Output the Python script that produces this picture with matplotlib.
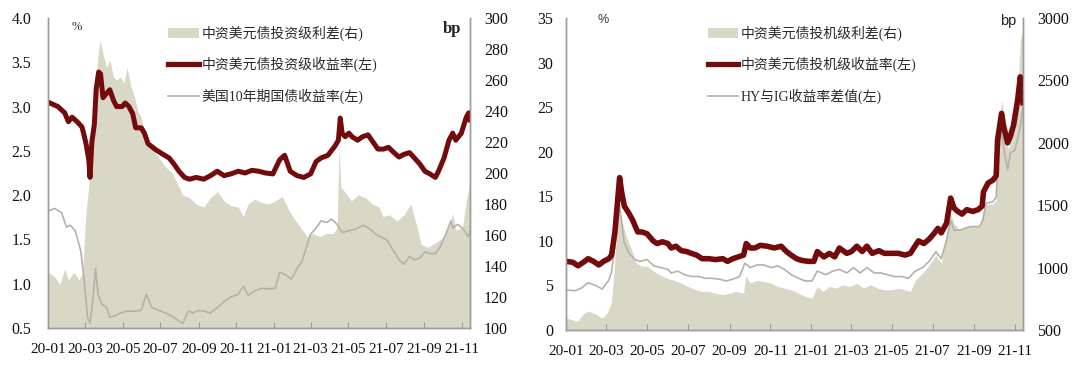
import matplotlib
matplotlib.use("Agg")
import matplotlib.pyplot as plt
import matplotlib.dates as mdates
import pandas as pd
from matplotlib.patches import Patch
from matplotlib.lines import Line2D

plt.rcParams['font.family'] = ['Liberation Serif', 'Noto Sans CJK SC']
plt.rcParams['axes.unicode_minus'] = False

# ---- left chart: investment grade ----
ig_spread = [  # bp, right axis
    ("2020-01-01", 136), ("2020-01-12", 133), ("2020-01-20", 128), ("2020-01-28", 138),
    ("2020-02-03", 131), ("2020-02-12", 136), ("2020-02-20", 131), ("2020-02-26", 136),
    ("2020-03-02", 172), ("2020-03-09", 200), ("2020-03-16", 236), ("2020-03-21", 273),
    ("2020-03-25", 286), ("2020-03-30", 277), ("2020-04-05", 268), ("2020-04-10", 273),
    ("2020-04-16", 262), ("2020-04-21", 260), ("2020-04-27", 262), ("2020-05-03", 258),
    ("2020-05-08", 268), ("2020-05-14", 256), ("2020-05-20", 249), ("2020-05-26", 239),
    ("2020-05-31", 236), ("2020-06-05", 226), ("2020-06-17", 217), ("2020-06-28", 210),
    ("2020-07-09", 204), ("2020-07-20", 200), ("2020-07-31", 191), ("2020-08-06", 186),
    ("2020-08-17", 184), ("2020-08-28", 180), ("2020-09-09", 178), ("2020-09-20", 184),
    ("2020-10-01", 188), ("2020-10-12", 182), ("2020-10-23", 179), ("2020-11-04", 178),
    ("2020-11-12", 172), ("2020-11-20", 180), ("2020-12-01", 183), ("2020-12-12", 181),
    ("2020-12-23", 180), ("2021-01-03", 182), ("2021-01-14", 185), ("2021-01-25", 176),
    ("2021-02-05", 169), ("2021-02-16", 163), ("2021-02-24", 159), ("2021-03-04", 161),
    ("2021-03-16", 159), ("2021-03-27", 161), ("2021-04-07", 161), ("2021-04-13", 165),
    ("2021-04-16", 217), ("2021-04-19", 191), ("2021-04-25", 188), ("2021-05-06", 182),
    ("2021-05-17", 186), ("2021-05-29", 184), ("2021-06-09", 180), ("2021-06-20", 178),
    ("2021-06-26", 172), ("2021-07-07", 173), ("2021-07-19", 169), ("2021-07-30", 173),
    ("2021-08-10", 180), ("2021-08-19", 167), ("2021-08-27", 154), ("2021-09-07", 152),
    ("2021-09-19", 155), ("2021-09-30", 158), ("2021-10-11", 165), ("2021-10-17", 174),
    ("2021-10-22", 163), ("2021-11-02", 165), ("2021-11-08", 182), ("2021-11-12", 190),
    ("2021-11-14", 197),
]
ig_yield = [  # %, left axis
    ("2020-01-01", 3.05), ("2020-01-17", 3.00), ("2020-01-28", 2.93), ("2020-02-03", 2.83),
    ("2020-02-09", 2.88), ("2020-02-17", 2.83), ("2020-02-25", 2.77), ("2020-03-02", 2.60),
    ("2020-03-07", 2.40), ("2020-03-09", 2.20), ("2020-03-12", 2.60), ("2020-03-16", 2.80),
    ("2020-03-19", 3.20), ("2020-03-23", 3.39), ("2020-03-26", 3.37), ("2020-03-30", 3.10),
    ("2020-04-05", 3.15), ("2020-04-10", 3.19), ("2020-04-16", 3.07), ("2020-04-21", 3.00),
    ("2020-04-30", 3.00), ("2020-05-05", 3.04), ("2020-05-11", 3.00), ("2020-05-17", 2.92),
    ("2020-05-22", 2.76), ("2020-05-31", 2.76), ("2020-06-05", 2.70), ("2020-06-11", 2.58),
    ("2020-06-22", 2.52), ("2020-07-03", 2.47), ("2020-07-15", 2.42), ("2020-07-23", 2.35),
    ("2020-07-31", 2.27), ("2020-08-09", 2.20), ("2020-08-17", 2.18), ("2020-08-28", 2.20),
    ("2020-09-09", 2.18), ("2020-09-20", 2.22), ("2020-10-01", 2.27), ("2020-10-12", 2.22),
    ("2020-10-23", 2.24), ("2020-11-04", 2.27), ("2020-11-15", 2.25), ("2020-11-26", 2.28),
    ("2020-12-07", 2.27), ("2020-12-18", 2.25), ("2020-12-30", 2.24), ("2021-01-10", 2.40),
    ("2021-01-18", 2.45), ("2021-01-27", 2.27), ("2021-02-07", 2.22), ("2021-02-18", 2.20),
    ("2021-03-01", 2.24), ("2021-03-10", 2.38), ("2021-03-18", 2.42), ("2021-03-29", 2.45),
    ("2021-04-09", 2.55), ("2021-04-15", 2.62), ("2021-04-18", 2.87), ("2021-04-21", 2.70),
    ("2021-04-26", 2.66), ("2021-05-02", 2.70), ("2021-05-07", 2.66), ("2021-05-16", 2.62),
    ("2021-05-24", 2.66), ("2021-06-02", 2.68), ("2021-06-10", 2.60), ("2021-06-18", 2.52),
    ("2021-06-27", 2.52), ("2021-07-05", 2.54), ("2021-07-14", 2.48), ("2021-07-22", 2.43),
    ("2021-07-30", 2.46), ("2021-08-08", 2.48), ("2021-08-16", 2.42), ("2021-08-25", 2.35),
    ("2021-09-02", 2.27), ("2021-09-10", 2.24), ("2021-09-19", 2.20), ("2021-09-24", 2.27),
    ("2021-10-03", 2.42), ("2021-10-11", 2.62), ("2021-10-17", 2.70), ("2021-10-22", 2.62),
    ("2021-10-31", 2.70), ("2021-11-08", 2.88), ("2021-11-12", 2.93), ("2021-11-14", 2.85),
]
ust10y = [  # %, left axis
    ("2020-01-01", 1.82), ("2020-01-12", 1.85), ("2020-01-23", 1.80), ("2020-01-31", 1.64),
    ("2020-02-06", 1.66), ("2020-02-14", 1.60), ("2020-02-23", 1.37), ("2020-02-28", 1.08),
    ("2020-03-05", 0.62), ("2020-03-09", 0.55), ("2020-03-14", 0.85), ("2020-03-18", 1.17),
    ("2020-03-22", 0.88), ("2020-03-28", 0.77), ("2020-04-05", 0.73), ("2020-04-10", 0.62),
    ("2020-04-19", 0.64), ("2020-04-27", 0.67), ("2020-05-08", 0.69), ("2020-05-20", 0.69),
    ("2020-05-31", 0.70), ("2020-06-08", 0.88), ("2020-06-17", 0.73), ("2020-06-28", 0.70),
    ("2020-07-09", 0.67), ("2020-07-20", 0.63), ("2020-07-31", 0.58), ("2020-08-06", 0.55),
    ("2020-08-15", 0.69), ("2020-08-23", 0.67), ("2020-08-31", 0.70), ("2020-09-09", 0.69),
    ("2020-09-20", 0.67), ("2020-10-01", 0.73), ("2020-10-12", 0.80), ("2020-10-23", 0.85),
    ("2020-11-04", 0.88), ("2020-11-12", 0.97), ("2020-11-20", 0.87), ("2020-12-01", 0.92),
    ("2020-12-12", 0.95), ("2020-12-23", 0.94), ("2021-01-03", 0.95), ("2021-01-10", 1.13),
    ("2021-01-20", 1.10), ("2021-01-29", 1.05), ("2021-02-07", 1.17), ("2021-02-15", 1.25),
    ("2021-02-24", 1.45), ("2021-03-01", 1.56), ("2021-03-10", 1.63), ("2021-03-18", 1.71),
    ("2021-03-27", 1.69), ("2021-04-04", 1.73), ("2021-04-13", 1.67), ("2021-04-21", 1.58),
    ("2021-05-03", 1.60), ("2021-05-14", 1.62), ("2021-05-25", 1.66), ("2021-06-05", 1.62),
    ("2021-06-14", 1.56), ("2021-06-22", 1.53), ("2021-07-03", 1.49), ("2021-07-14", 1.36),
    ("2021-07-22", 1.27), ("2021-07-30", 1.22), ("2021-08-08", 1.31), ("2021-08-16", 1.27),
    ("2021-08-25", 1.29), ("2021-09-02", 1.36), ("2021-09-10", 1.34), ("2021-09-19", 1.34),
    ("2021-09-27", 1.42), ("2021-10-06", 1.56), ("2021-10-14", 1.71), ("2021-10-17", 1.63),
    ("2021-10-25", 1.67), ("2021-11-03", 1.62), ("2021-11-11", 1.53), ("2021-11-14", 1.60),
]

# ---- right chart: high yield ----
hy_spread = [  # bp, right axis
    ("2020-01-01", 596), ("2020-01-11", 580), ("2020-01-19", 572), ("2020-01-27", 628),
    ("2020-02-03", 652), ("2020-02-14", 628), ("2020-02-24", 596), ("2020-03-03", 640),
    ("2020-03-09", 724), ("2020-03-13", 1000), ("2020-03-17", 1300), ("2020-03-21", 1490),
    ("2020-03-25", 1363), ("2020-03-31", 1250), ("2020-04-08", 1139), ("2020-04-15", 1035),
    ("2020-04-23", 1011), ("2020-05-01", 1011), ("2020-05-11", 970), ("2020-05-21", 939),
    ("2020-06-01", 912), ("2020-06-11", 897), ("2020-06-21", 875), ("2020-07-01", 849),
    ("2020-07-12", 822), ("2020-07-22", 809), ("2020-08-01", 809), ("2020-08-11", 795),
    ("2020-08-22", 782), ("2020-09-01", 795), ("2020-09-11", 809), ("2020-09-22", 795),
    ("2020-09-25", 931), ("2020-10-02", 875), ("2020-10-12", 897), ("2020-10-22", 889),
    ("2020-11-02", 875), ("2020-11-12", 849), ("2020-11-22", 835), ("2020-12-02", 822),
    ("2020-12-13", 795), ("2020-12-23", 769), ("2021-01-02", 756), ("2021-01-10", 849),
    ("2021-01-18", 809), ("2021-01-28", 849), ("2021-02-07", 835), ("2021-02-17", 862),
    ("2021-02-28", 849), ("2021-03-10", 875), ("2021-03-20", 835), ("2021-03-31", 862),
    ("2021-04-10", 835), ("2021-04-20", 822), ("2021-04-30", 822), ("2021-05-11", 835),
    ("2021-05-21", 822), ("2021-05-29", 809), ("2021-06-05", 897), ("2021-06-16", 955),
    ("2021-06-26", 1019), ("2021-07-06", 1099), ("2021-07-14", 1035), ("2021-07-22", 1275),
    ("2021-07-28", 1434), ("2021-08-02", 1355), ("2021-08-11", 1300), ("2021-08-21", 1320),
    ("2021-09-01", 1340), ("2021-09-09", 1325), ("2021-09-16", 1486), ("2021-09-22", 1510),
    ("2021-09-29", 1510), ("2021-10-04", 1542), ("2021-10-07", 2078), ("2021-10-12", 2343),
    ("2021-10-18", 2150), ("2021-10-22", 1942), ("2021-10-30", 2102), ("2021-11-06", 2479),
    ("2021-11-09", 2824), ("2021-11-13", 2928),
]
hy_yield = [  # %, left axis
    ("2020-01-01", 7.7), ("2020-01-11", 7.6), ("2020-01-19", 7.2), ("2020-01-27", 7.6),
    ("2020-02-03", 8.0), ("2020-02-11", 7.7), ("2020-02-19", 7.3), ("2020-02-26", 7.7),
    ("2020-03-05", 8.0), ("2020-03-09", 8.4), ("2020-03-14", 11.0), ("2020-03-18", 14.5),
    ("2020-03-21", 17.1), ("2020-03-24", 15.5), ("2020-03-28", 13.9), ("2020-04-03", 13.2),
    ("2020-04-09", 12.4), ("2020-04-17", 11.0), ("2020-04-23", 11.0), ("2020-05-01", 10.8),
    ("2020-05-10", 10.0), ("2020-05-16", 9.7), ("2020-05-24", 9.9), ("2020-06-01", 9.7),
    ("2020-06-06", 9.2), ("2020-06-13", 9.4), ("2020-06-21", 8.9), ("2020-06-29", 8.8),
    ("2020-07-06", 8.6), ("2020-07-14", 8.4), ("2020-07-22", 8.0), ("2020-08-01", 8.0),
    ("2020-08-11", 7.9), ("2020-08-22", 8.0), ("2020-08-29", 7.7), ("2020-09-06", 8.0),
    ("2020-09-14", 8.2), ("2020-09-22", 8.4), ("2020-09-26", 9.7), ("2020-10-02", 9.2),
    ("2020-10-09", 9.2), ("2020-10-17", 9.5), ("2020-10-27", 9.4), ("2020-11-07", 9.2),
    ("2020-11-17", 9.4), ("2020-11-25", 8.8), ("2020-12-02", 8.4), ("2020-12-10", 8.0),
    ("2020-12-18", 7.8), ("2020-12-28", 7.7), ("2021-01-05", 7.7), ("2021-01-10", 8.8),
    ("2021-01-20", 8.2), ("2021-01-28", 8.6), ("2021-02-05", 8.2), ("2021-02-12", 9.2),
    ("2021-02-23", 8.6), ("2021-03-02", 8.8), ("2021-03-10", 9.4), ("2021-03-18", 8.8),
    ("2021-03-25", 9.4), ("2021-04-02", 8.6), ("2021-04-12", 8.9), ("2021-04-20", 8.6),
    ("2021-04-30", 8.6), ("2021-05-11", 8.6), ("2021-05-21", 8.4), ("2021-05-29", 8.6),
    ("2021-06-03", 9.2), ("2021-06-10", 10.0), ("2021-06-18", 9.7), ("2021-06-26", 10.2),
    ("2021-07-04", 10.9), ("2021-07-09", 11.4), ("2021-07-14", 10.9), ("2021-07-22", 12.0),
    ("2021-07-28", 14.8), ("2021-08-02", 13.7), ("2021-08-06", 13.4), ("2021-08-14", 13.0),
    ("2021-08-21", 13.5), ("2021-08-30", 13.3), ("2021-09-07", 13.5), ("2021-09-13", 13.9),
    ("2021-09-15", 15.5), ("2021-09-22", 16.5), ("2021-09-29", 16.8), ("2021-10-04", 17.3),
    ("2021-10-06", 21.3), ("2021-10-12", 24.3), ("2021-10-15", 22.9), ("2021-10-21", 21.0),
    ("2021-10-25", 21.7), ("2021-10-30", 23.0), ("2021-11-05", 25.8), ("2021-11-09", 28.4),
    ("2021-11-11", 27.3), ("2021-11-13", 25.5),
]
hy_ig_gap = [  # %, left axis
    ("2020-01-01", 4.5), ("2020-01-14", 4.4), ("2020-01-24", 4.7), ("2020-02-03", 5.3),
    ("2020-02-14", 5.0), ("2020-02-24", 4.6), ("2020-03-05", 5.6), ("2020-03-09", 6.5),
    ("2020-03-14", 9.5), ("2020-03-21", 13.9), ("2020-03-25", 11.5), ("2020-03-28", 9.8),
    ("2020-04-05", 8.5), ("2020-04-13", 7.9), ("2020-04-20", 7.7), ("2020-05-01", 7.9),
    ("2020-05-11", 7.2), ("2020-05-21", 7.0), ("2020-06-01", 6.8), ("2020-06-06", 6.4),
    ("2020-06-16", 6.6), ("2020-06-26", 6.2), ("2020-07-06", 6.0), ("2020-07-17", 6.0),
    ("2020-07-27", 5.8), ("2020-08-06", 5.8), ("2020-08-17", 5.7), ("2020-08-27", 5.5),
    ("2020-09-06", 5.7), ("2020-09-16", 6.0), ("2020-09-24", 7.5), ("2020-10-02", 7.0),
    ("2020-10-12", 7.3), ("2020-10-22", 7.3), ("2020-11-02", 7.0), ("2020-11-12", 7.2),
    ("2020-11-22", 6.8), ("2020-12-02", 6.2), ("2020-12-13", 5.8), ("2020-12-23", 5.5),
    ("2021-01-02", 5.5), ("2021-01-10", 6.6), ("2021-01-23", 6.2), ("2021-02-02", 6.6),
    ("2021-02-12", 6.8), ("2021-02-23", 6.4), ("2021-03-05", 7.0), ("2021-03-15", 6.4),
    ("2021-03-25", 7.0), ("2021-04-05", 6.4), ("2021-04-15", 6.4), ("2021-04-25", 6.2),
    ("2021-05-05", 6.0), ("2021-05-16", 6.0), ("2021-05-26", 5.8), ("2021-06-05", 6.6),
    ("2021-06-16", 7.0), ("2021-06-26", 7.7), ("2021-07-06", 8.8), ("2021-07-14", 8.0),
    ("2021-07-22", 10.1), ("2021-07-28", 12.3), ("2021-08-02", 11.2), ("2021-08-11", 11.2),
    ("2021-08-26", 11.6), ("2021-09-09", 11.6), ("2021-09-14", 12.3), ("2021-09-19", 14.2),
    ("2021-09-29", 14.4), ("2021-10-04", 14.9), ("2021-10-07", 19.5), ("2021-10-12", 22.5),
    ("2021-10-16", 20.0), ("2021-10-21", 18.0), ("2021-10-25", 19.8), ("2021-11-01", 20.2),
    ("2021-11-09", 22.8), ("2021-11-13", 25.0),
]

labels_left = ["中资美元债投资级利差(右)", "中资美元债投资级收益率(左)", "美国10年期国债收益率(左)"]
labels_right = ["中资美元债投机级利差(右)", "中资美元债投机级收益率(左)", "HY与IG收益率差值(左)"]

FILL = '#d9d7c6'
RED = '#730a0c'
GREY = '#b4b2aa'
SPINE = '#9c9c9c'
CJK = ['Liberation Serif', 'Noto Sans CJK SC']


def unpack(series):
    d = pd.to_datetime([s[0] for s in series])
    v = [s[1] for s in series]
    return d, v


def panel(rect, spread, yld, third, labels, xend, ylim_l, yt_l, fmt_l, ylim_r, yt_r,
          leg_x, red_lw, unit_font, pct_pos, bp_pos, ypad_l):
    ax = fig.add_axes(rect)
    ax2 = ax.twinx()
    ax.set_zorder(ax2.get_zorder() + 1)
    ax.patch.set_visible(False)

    d, v = unpack(spread)
    ax2.fill_between(d, ylim_r[0], v, color=FILL, lw=0)
    d, v = unpack(third)
    ax.plot(d, v, color=GREY, lw=1.2)
    d, v = unpack(yld)
    ax.plot(d, v, color=RED, lw=red_lw, solid_joinstyle='round')

    x0 = pd.Timestamp("2020-01-01")
    ax.set_xlim(x0, pd.Timestamp(xend))
    ax.set_ylim(*ylim_l)
    ax2.set_ylim(*ylim_r)
    ax.set_yticks(yt_l)
    ax.set_yticklabels([fmt_l.format(t) for t in yt_l])
    ax2.set_yticks(yt_r)
    ax.xaxis.set_major_locator(mdates.MonthLocator(bymonth=[1, 3, 5, 7, 9, 11]))
    ax.xaxis.set_major_formatter(mdates.DateFormatter('%y-%m'))

    for a in (ax, ax2):
        a.spines['top'].set_visible(False)
        for s in ('left', 'right', 'bottom'):
            a.spines[s].set_color(SPINE)
            a.spines[s].set_linewidth(1.0)
        a.tick_params(axis='y', length=0, labelsize=11.5, colors='#111111')
    ax.tick_params(axis='y', pad=ypad_l)
    ax2.tick_params(axis='y', pad=10)
    ax.tick_params(axis='x', direction='in', length=4, color=SPINE, labelsize=11,
                   pad=11, labelcolor='#111111')
    for t in ax.get_xticklabels() + ax.get_yticklabels() + ax2.get_yticklabels():
        t.set_family('Liberation Serif')

    handles = [Patch(facecolor=FILL, edgecolor='none'),
               Line2D([], [], color=RED, lw=3.8),
               Line2D([], [], color=GREY, lw=1.2)]
    leg = ax.legend(handles, labels, loc='upper left', bbox_to_anchor=(leg_x, 0.975),
                    frameon=False, handlelength=2.2, handletextpad=0.2,
                    labelspacing=1.15, borderpad=0, borderaxespad=0,
                    prop={'family': CJK, 'size': 10})
    for t in leg.get_texts():
        t.set_color('#2a2a2a')

    ax.text(pct_pos[0], pct_pos[1], '%', transform=ax.transAxes, fontsize=9,
            family=unit_font, color='#333333', ha='left', va='center')
    ax.text(bp_pos[0], bp_pos[1], 'bp', transform=ax.transAxes, fontsize=bp_pos[2],
            family=unit_font, color='#222222', ha='right', va='center',
            fontweight=bp_pos[3])
    return ax


fig = plt.figure(figsize=(10.8, 3.68), dpi=100)

panel([48 / 1080, 40 / 368, 422 / 1080, 310 / 368], ig_spread, ig_yield, ust10y,
      labels_left, "2021-11-14", (0.5, 4.0), [0.5, 1.0, 1.5, 2.0, 2.5, 3.0, 3.5, 4.0],
      "{:.1f}", (100, 300), list(range(100, 301, 20)), 0.285, 3.6,
      'Liberation Serif', (0.055, 0.97), (0.98, 0.965, 12, 'bold'), 12)

panel([566 / 1080, 38 / 368, 457 / 1080, 312 / 368], hy_spread, hy_yield, hy_ig_gap,
      labels_right, "2021-11-13", (0, 35), list(range(0, 36, 5)),
      "{:d}", (500, 3000), list(range(500, 3001, 500)), 0.31, 4.0,
      'Liberation Sans', (0.07, 0.995), (0.985, 0.99, 10.5, 'normal'), 9)

fig.savefig('out.png', dpi=100)
